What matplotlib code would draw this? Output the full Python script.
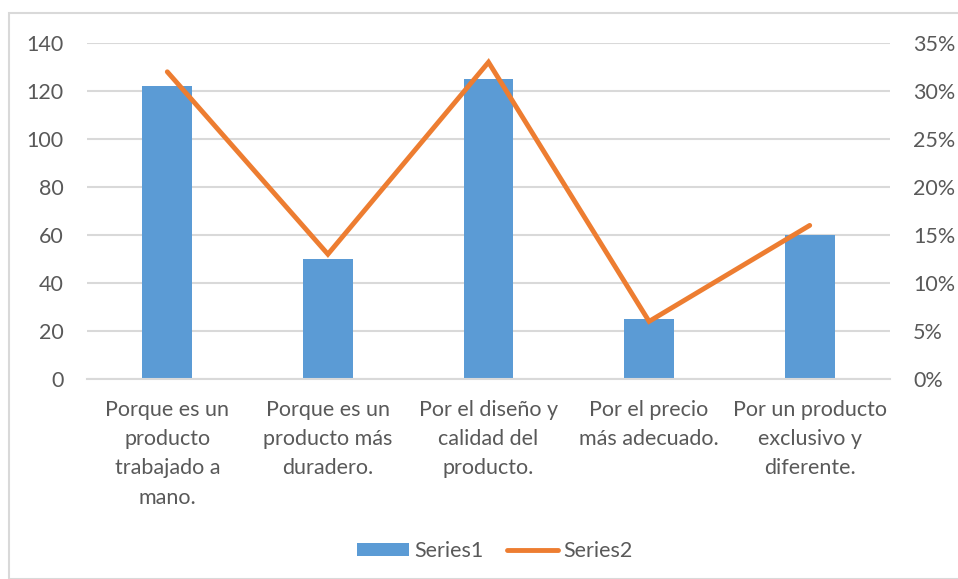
import matplotlib
matplotlib.use('Agg')
import matplotlib.pyplot as plt
from matplotlib.patches import Rectangle
from matplotlib.ticker import FuncFormatter

# data
categories = [
    "Porque es un\nproducto\ntrabajado a\nmano.",
    "Porque es un\nproducto más\nduradero.",
    "Por el diseño y\ncalidad del\nproducto.",
    "Por el precio\nmás adecuado.",
    "Por un producto\nexclusivo y\ndiferente.",
]
series1 = [122, 50, 125, 25, 60]
series2 = [0.32, 0.13, 0.33, 0.06, 0.16]
left_ticks = [0, 20, 40, 60, 80, 100, 120, 140]
right_ticks = [0, 0.05, 0.10, 0.15, 0.20, 0.25, 0.30, 0.35]

BLUE = '#5B9BD5'
ORANGE = '#ED7D31'
TEXT = '#595959'
GRID = '#D9D9D9'
FS = 15.5

plt.rcParams['font.family'] = ['Lato', 'DejaVu Sans']

fig = plt.figure(figsize=(9.58, 5.79), dpi=100)
ax = fig.add_axes([87 / 958, 1 - 379 / 579, 803 / 958, 336 / 579])

# chart border
fig.add_artist(Rectangle((9 / 958, 0.0), 1.0, 1 - 13 / 579, transform=fig.transFigure,
                         fill=False, edgecolor=GRID, linewidth=1.5))

x = range(len(categories))
bars = ax.bar(x, series1, width=0.31, color=BLUE, label='Series1', zorder=2)
ax.set_ylim(0, 140)
ax.set_xlim(-0.5, len(categories) - 0.5)
ax.set_yticks(left_ticks)
ax.set_xticks(list(x))
ax.set_xticklabels(categories, linespacing=1.58)
ax.yaxis.grid(True, color=GRID, linewidth=1.5, zorder=0)
ax.set_axisbelow(True)
for side in ['top', 'right', 'left']:
    ax.spines[side].set_visible(False)
ax.spines['bottom'].set_color(GRID)
ax.spines['bottom'].set_linewidth(1.5)
ax.tick_params(axis='both', length=0, labelsize=FS, labelcolor=TEXT)
ax.tick_params(axis='y', pad=17)
ax.tick_params(axis='x', pad=15)

ax2 = ax.twinx()
line, = ax2.plot(list(x), series2, color=ORANGE, linewidth=3.5, label='Series2',
                 solid_capstyle='round', solid_joinstyle='miter', zorder=3)
ax2.set_ylim(0, 0.35)
ax2.set_yticks(right_ticks)
ax2.yaxis.set_major_formatter(FuncFormatter(lambda v, p: f'{v * 100:.0f}%'))
for side in ['top', 'right', 'left', 'bottom']:
    ax2.spines[side].set_visible(False)
ax2.tick_params(axis='y', length=0, labelsize=FS, labelcolor=TEXT, pad=16.5)

leg = fig.legend([bars, line], ['Series1', 'Series2'], loc='center',
                 bbox_to_anchor=(495 / 958, 1 - 551 / 579), ncol=2, frameon=False,
                 fontsize=FS, handlelength=2.4, handleheight=0.6,
                 columnspacing=1.07, handletextpad=0.25, borderpad=0.2)
for t in leg.get_texts():
    t.set_color(TEXT)

plt.savefig('out.png', dpi=100)
